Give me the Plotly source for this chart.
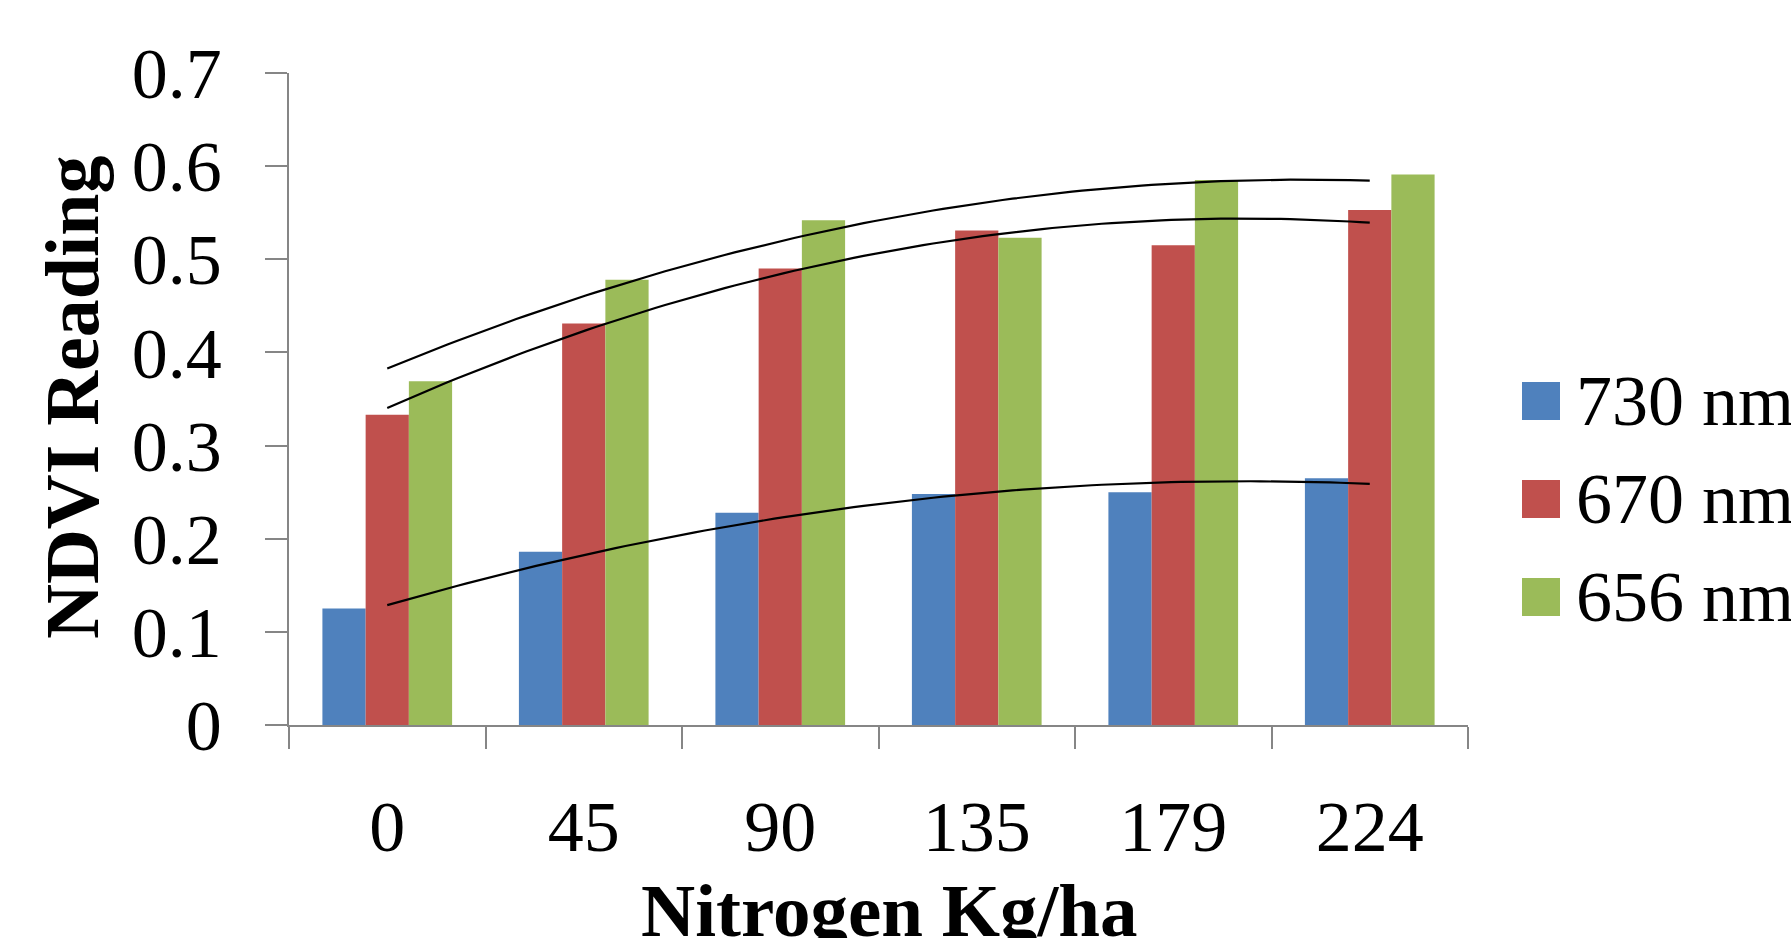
import numpy as np
import plotly.graph_objects as go

categories = ["0", "45", "90", "135", "179", "224"]
nm730 = [0.125, 0.186, 0.228, 0.248, 0.250, 0.265]
nm670 = [0.333, 0.431, 0.490, 0.531, 0.515, 0.553]
nm656 = [0.369, 0.478, 0.542, 0.523, 0.585, 0.591]
series_names = ["730 nm", "670 nm", "656 nm"]
colors = ["#4F81BD", "#C0504D", "#9BBB59"]
yticks = [0, 0.1, 0.2, 0.3, 0.4, 0.5, 0.6, 0.7]
ytick_labels = ["0", "0.1", "0.2", "0.3", "0.4", "0.5", "0.6", "0.7"]

W, H = 1791, 938
L, R, T, B = 289, 1791 - 1468, 73, 938 - 725
PW, PH = W - L - R, H - T - B

FONT = "Times New Roman, Liberation Serif, serif"

def px_x(x):
    return (x - L) / PW

def px_y(y):
    return (H - B - y) / PH

fig = go.Figure()
xpos = np.arange(len(categories))
series = [nm730, nm670, nm656]
for name, vals, col in zip(series_names, series, colors):
    fig.add_trace(go.Bar(x=xpos, y=vals, name=name, marker=dict(color=col, line=dict(width=0)),
                         showlegend=False))

# polynomial (order 2) trendlines, as in the original
xs = np.linspace(0, len(categories) - 1, 100)
for vals in series:
    c = np.polyfit(xpos, vals, 2)
    fig.add_trace(go.Scatter(x=xs, y=np.polyval(c, xs), mode="lines",
                             line=dict(color="black", width=2.2), showlegend=False,
                             hoverinfo="skip"))

# manual legend
row_y = [401, 499, 597]
for name, col, yc in zip(series_names, colors, row_y):
    fig.add_shape(type="rect", xref="paper", yref="paper",
                  x0=px_x(1522), x1=px_x(1560), y0=px_y(yc + 19), y1=px_y(yc - 19),
                  fillcolor=col, line=dict(width=0))
    fig.add_annotation(text=name, xref="paper", yref="paper", x=px_x(1574), y=px_y(yc),
                       xanchor="left", yanchor="middle", showarrow=False,
                       font=dict(family=FONT, size=72, color="black"))

fig.add_annotation(text="<b>NDVI Reading</b>", xref="paper", yref="paper",
                   x=px_x(72), y=px_y(397), textangle=-90, showarrow=False,
                   xanchor="center", yanchor="middle",
                   font=dict(family=FONT, size=76, color="black"))
fig.add_annotation(text="<b>Nitrogen Kg/ha</b>", xref="paper", yref="paper",
                   x=px_x(889), y=px_y(910), showarrow=False,
                   xanchor="center", yanchor="middle",
                   font=dict(family=FONT, size=75, color="black"))

fig.update_layout(
    width=W, height=H,
    margin=dict(l=L, r=R, t=T, b=B, pad=0),
    paper_bgcolor="white", plot_bgcolor="white",
    barmode="group", bargap=0.34, bargroupgap=0,
    showlegend=False,
    font=dict(family=FONT, size=72, color="black"),
)
fig.update_xaxes(
    range=[-0.5, len(categories) - 0.5],
    tickvals=list(xpos), ticktext=categories,
    ticks="", showgrid=False, zeroline=False,
    showline=True, linecolor="#868686", linewidth=1.5,
    ticklabelstandoff=38,
    tickfont=dict(family=FONT, size=72, color="black"),
    minor=dict(tickvals=list(np.arange(-0.5, len(categories), 1.0)), ticks="outside",
               ticklen=22, tickcolor="#868686", tickwidth=1.5),
)
fig.update_yaxes(
    range=[0, 0.7], tickvals=yticks, ticktext=ytick_labels,
    ticks="outside", ticklen=22, tickcolor="#868686", tickwidth=1.5,
    showgrid=False, zeroline=False,
    showline=True, linecolor="#868686", linewidth=1.5,
    ticklabelstandoff=29,
    tickfont=dict(family=FONT, size=72, color="black"),
)

fig.write_html("out.html")
